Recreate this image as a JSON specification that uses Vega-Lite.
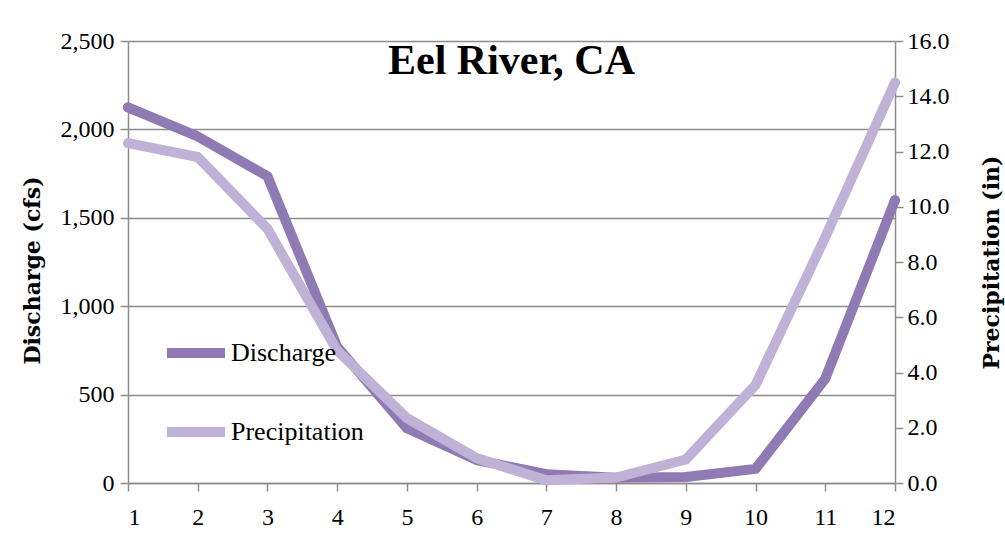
{
  "$schema": "https://vega.github.io/schema/vega-lite/v6.json",
  "autosize": "none",
  "width": 767,
  "height": 442,
  "padding": {"left": 128, "top": 41, "right": 110, "bottom": 61},
  "background": "white",
  "config": {
    "view": {"stroke": null},
    "axis": {
      "labelFont": "Liberation Serif",
      "labelFontSize": 24,
      "labelColor": "black",
      "titleFont": "DejaVu Serif",
      "titleFontSize": 22,
      "titleFontWeight": "bold",
      "titleColor": "black",
      "domainColor": "#8c8c8c",
      "tickColor": "#8c8c8c",
      "gridColor": "#8c8c8c",
      "tickSize": 8,
      "domainWidth": 1.5,
      "tickWidth": 1.5,
      "gridWidth": 1.5
    }
  },
  "datasets": {
    "flows": [
      {"month": 1, "discharge": 2125, "precip": 12.3},
      {"month": 2, "discharge": 1960, "precip": 11.8},
      {"month": 3, "discharge": 1735, "precip": 9.2},
      {"month": 4, "discharge": 770, "precip": 4.8},
      {"month": 5, "discharge": 310, "precip": 2.35},
      {"month": 6, "discharge": 130, "precip": 0.9},
      {"month": 7, "discharge": 50, "precip": 0.1},
      {"month": 8, "discharge": 30, "precip": 0.2},
      {"month": 9, "discharge": 34, "precip": 0.85},
      {"month": 10, "discharge": 80, "precip": 3.55},
      {"month": 11, "discharge": 590, "precip": 8.9},
      {"month": 12, "discharge": 1600, "precip": 14.5}
    ],
    "heading": [
      {"label": "Eel River, CA", "month": 6.5, "discharge": 2313}
    ]
  },
  "layer": [
    {
      "data": {"name": "flows"},
      "mark": {"type": "line", "strokeWidth": 10, "strokeCap": "round", "strokeJoin": "round", "point": {"filled": true, "size": 90}},
      "encoding": {
        "x": {
          "field": "month",
          "type": "quantitative",
          "scale": {"domain": [1, 12], "nice": false},
          "axis": {
            "title": null,
            "values": [1,2,3,4,5,6,7,8,9,10,11,12],
            "grid": false,
            "labelPadding": 14,
            "format": "d"
          }
        },
        "y": {
          "field": "discharge",
          "type": "quantitative",
          "scale": {"domain": [0, 2500], "nice": false},
          "axis": {
            "title": "Discharge (cfs)",
            "values": [0, 500, 1000, 1500, 2000, 2500],
            "format": ",d",
            "labelPadding": 6,
            "titlePadding": 16,
            "titleY": 229,
            "grid": true
          }
        },
        "color": {
          "datum": "Discharge",
          "scale": {"domain": ["Discharge", "Precipitation"], "range": ["#8f7ab3", "#bfb2d6"]},
          "legend": {
            "title": null,
            "orient": "none",
            "legendX": 34,
            "legendY": 278,
            "symbolType": "stroke",
            "symbolSize": 3364,
            "symbolStrokeWidth": 10,
            "labelFont": "Liberation Serif",
            "labelFontSize": 26,
            "labelColor": "black",
            "labelOffset": 1,
            "rowPadding": 25
          }
        }
      }
    },
    {
      "data": {"name": "flows"},
      "mark": {"type": "line", "strokeWidth": 10, "strokeCap": "round", "strokeJoin": "round", "point": {"filled": true, "size": 90}},
      "encoding": {
        "x": {"field": "month", "type": "quantitative"},
        "y": {
          "field": "precip",
          "type": "quantitative",
          "scale": {"domain": [0, 16], "nice": false},
          "axis": {
            "orient": "right",
            "title": "Precipitation (in)",
            "titleAngle": 270,
            "values": [0, 2, 4, 6, 8, 10, 12, 14, 16],
            "format": ".1f",
            "labelPadding": 4,
            "titlePadding": 54,
            "grid": false
          }
        },
        "color": {"datum": "Precipitation"}
      }
    },
    {
      "data": {"name": "heading"},
      "mark": {"type": "text", "font": "Liberation Serif", "fontSize": 42, "fontWeight": "bold", "fill": "black", "align": "center", "baseline": "alphabetic"},
      "encoding": {
        "x": {"field": "month", "type": "quantitative"},
        "y": {"field": "discharge", "type": "quantitative", "scale": {"domain": [0, 2500], "nice": false}, "axis": null},
        "text": {"field": "label"}
      }
    }
  ],
  "resolve": {"scale": {"y": "independent"}}
}
